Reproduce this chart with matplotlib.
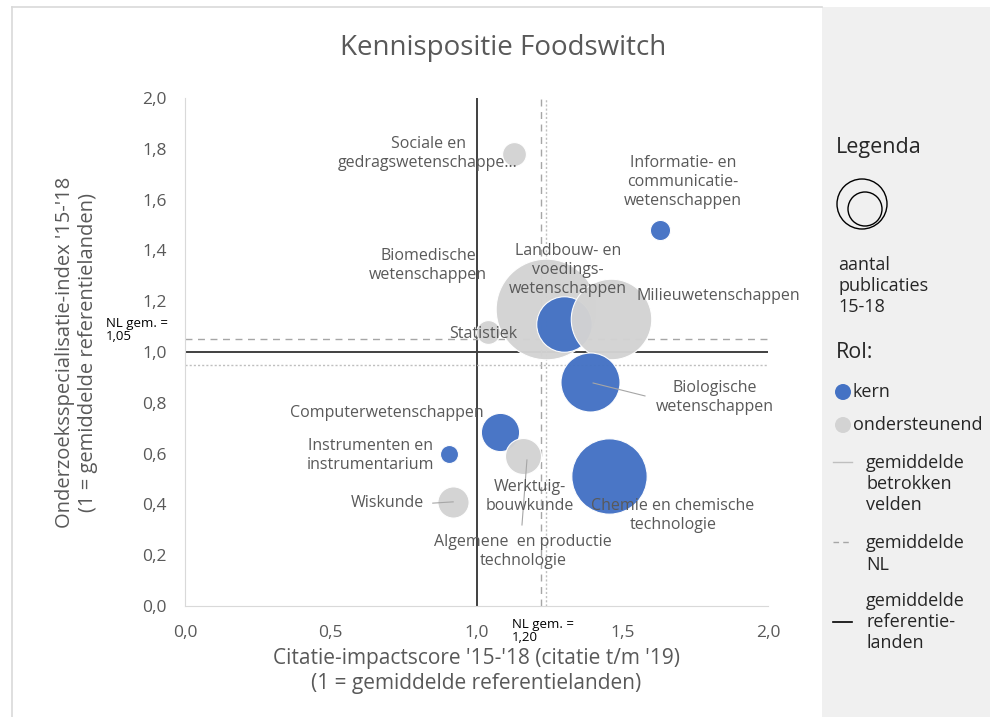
import numpy as np
import matplotlib
matplotlib.use('Agg')
import matplotlib.pyplot as plt
from matplotlib.patches import Rectangle, Circle

plt.rcParams['font.family'] = ['Open Sans', 'DejaVu Sans']

# data
velden = ['Sociale en gedragswetenschappen', 'Informatie- en communicatiewetenschappen',
          'Biomedische wetenschappen', 'Statistiek', 'Landbouw- en voedingswetenschappen',
          'Milieuwetenschappen', 'Biologische wetenschappen', 'Computerwetenschappen',
          'Instrumenten en instrumentarium', 'Werktuigbouwkunde', 'Chemie en chemische technologie',
          'Wiskunde']
citatie = [1.13, 1.63, 1.24, 1.04, 1.30, 1.46, 1.39, 1.08, 0.905, 1.16, 1.455, 0.92]
specialisatie = [1.78, 1.48, 1.17, 1.08, 1.11, 1.13, 0.88, 0.685, 0.60, 0.59, 0.51, 0.41]
publicaties = [70, 50, 1250, 70, 380, 800, 430, 180, 40, 160, 700, 120]
rol = ['o', 'k', 'o', 'o', 'k', 'o', 'k', 'k', 'k', 'o', 'k', 'o']  # k = kern, o = ondersteunend

nl_x, nl_y = 1.22, 1.05          # gemiddelde NL
betr_x, betr_y = 1.24, 0.95      # gemiddelde betrokken velden
ref = 1.0                        # gemiddelde referentielanden

blauw = '#4472C4'
grijs = '#D3D3D3'
tekst = '#595959'

fig = plt.figure(figsize=(9.9, 7.17), dpi=100)

# achtergrond + legenda paneel (pixel coordinaten)
bg = fig.add_axes([0, 0, 1, 1], zorder=0)
bg.set_xlim(0, 990)
bg.set_ylim(717, 0)
bg.axis('off')
bg.add_patch(Rectangle((822, 7), 168, 710, color='#F0F0F0', lw=0))
bg.plot([12, 822], [7, 7], color='#D9D9D9', lw=1.2)
bg.plot([12, 12], [7, 717], color='#D9D9D9', lw=1.2)

ax = fig.add_axes([185 / 990, 1 - 606 / 717, 583 / 990, 508 / 717], zorder=1)
ax.set_facecolor('none')

kleuren = [blauw if r == 'k' else grijs for r in rol]
for i in range(len(velden)):
    ax.scatter(citatie[i], specialisatie[i], s=publicaties[i] * 4.2, color=kleuren[i],
               edgecolor='white', linewidth=0.8, alpha=0.97, zorder=3)

# referentielijnen
ax.axvline(ref, color='#404040', lw=1.4, zorder=2)
ax.axhline(ref, color='#404040', lw=1.4, zorder=2)
ax.axvline(nl_x, color='#A6A6A6', lw=1, ls=(0, (5, 4)), zorder=2)
ax.axhline(nl_y, color='#A6A6A6', lw=1, ls=(0, (5, 4)), zorder=2)
ax.axvline(betr_x, color='#BFBFBF', lw=1, ls=(0, (1.5, 1.5)), zorder=2)
ax.axhline(betr_y, color='#BFBFBF', lw=1, ls=(0, (1.5, 1.5)), zorder=2)

# labels
lab = dict(fontsize=11.5, color=tekst, ha='center', va='center', zorder=5, linespacing=1.25)
ax.text(0.834, 1.78, 'Sociale en\ngedragswetenschappe...', **lab)
ax.text(1.708, 1.669, 'Informatie- en\ncommunicatie-\nwetenschappen', **lab)
ax.text(0.834, 1.339, 'Biomedische\nwetenschappen', **lab)
ax.text(1.314, 1.323, 'Landbouw- en\nvoedings-\nwetenschappen', **lab)
ax.text(1.828, 1.22, 'Milieuwetenschappen', clip_on=False, **lab)
ax.text(1.022, 1.071, 'Statistiek', **lab)
ax.text(1.818, 0.819, 'Biologische\nwetenschappen', **lab)
ax.text(0.693, 0.760, 'Computerwetenschappen', **lab)
ax.text(0.638, 0.594, 'Instrumenten en\ninstrumentarium', **lab)
ax.text(1.183, 0.433, 'Werktuig-\nbouwkunde', **lab)
ax.text(1.16, 0.213, 'Algemene  en productie\ntechnologie', **lab)
ax.text(1.674, 0.358, 'Chemie en chemische\ntechnologie', **lab)
ax.text(0.696, 0.406, 'Wiskunde', **lab)
ax.plot([1.40, 1.578], [0.878, 0.827], color='#A6A6A6', lw=0.8, zorder=4)
ax.plot([1.173, 1.156], [0.575, 0.319], color='#A6A6A6', lw=0.8, zorder=4)
ax.plot([0.85, 0.92], [0.405, 0.41], color='#A6A6A6', lw=0.8, zorder=4)

ax.text(-0.27, 1.085, 'NL gem. =\n1,05', fontsize=9.5, color='black', ha='left', va='center',
        clip_on=False, linespacing=1.0)
ax.text(1.122, -0.098, 'NL gem. =\n1,20', fontsize=9.5, color='black', ha='left', va='center',
        clip_on=False, linespacing=1.0)

ax.set_xlim(0, 2)
ax.set_ylim(0, 2)
ticks_x = np.arange(0, 2.01, 0.5)
ticks_y = np.arange(0, 2.01, 0.2)
ax.set_xticks(ticks_x)
ax.set_yticks(ticks_y)
ax.set_xticklabels([f'{t:.1f}'.replace('.', ',') for t in ticks_x])
ax.set_yticklabels([f'{t:.1f}'.replace('.', ',') for t in ticks_y])
ax.tick_params(length=0, labelsize=12.5, labelcolor=tekst)
ax.tick_params(axis='x', pad=14)
ax.tick_params(axis='y', pad=13)
for s in ['top', 'right']:
    ax.spines[s].set_visible(False)
for s in ['left', 'bottom']:
    ax.spines[s].set_color('#D9D9D9')

fig.text(503 / 990, 1 - 48 / 717, 'Kennispositie Foodswitch', fontsize=20, color=tekst,
         ha='center', va='center')
ax.set_xlabel("Citatie-impactscore '15-'18 (citatie t/m '19)\n(1 = gemiddelde referentielanden)",
              fontsize=15, color=tekst, labelpad=5, linespacing=1.2)
ax.set_ylabel("Onderzoeksspecialisatie-index '15-'18\n(1 = gemiddelde referentielanden)",
              fontsize=14.5, color=tekst, labelpad=32, linespacing=1.2)

# legenda
donker = '#262626'
bg.text(836, 148, 'Legenda', fontsize=15.5, color=donker, va='center')
bg.add_patch(Circle((862, 204), 25, fill=False, ec='black', lw=1))
bg.add_patch(Circle((865, 209), 17, fill=False, ec='black', lw=1))
bg.text(838, 286, 'aantal\npublicaties\n15-18', fontsize=13, color=donker, va='center',
        linespacing=1.25)
bg.text(836, 353, 'Rol:', fontsize=15.5, color=donker, va='center')
bg.add_patch(Circle((843, 392), 8, color=blauw, lw=0))
bg.text(853, 392, 'kern', fontsize=13, color=donker, va='center')
bg.add_patch(Circle((843, 425), 8, color=grijs, lw=0))
bg.text(853, 425, 'ondersteunend', fontsize=13, color=donker, va='center')
bg.plot([833, 852], [462, 462], color='#BFBFBF', lw=1)
bg.text(866, 484, 'gemiddelde\nbetrokken\nvelden', fontsize=13, color=donker, va='center',
        linespacing=1.25)
bg.plot([833, 852], [542, 542], color='#A6A6A6', lw=1, ls=(0, (4, 3)))
bg.text(866, 554, 'gemiddelde\nNL', fontsize=13, color=donker, va='center',
        linespacing=1.25)
bg.plot([833, 852], [622, 622], color='black', lw=1.2)
bg.text(866, 622, 'gemiddelde\nreferentie-\nlanden', fontsize=13, color=donker, va='center',
        linespacing=1.25)

fig.savefig('out.png', dpi=100)
